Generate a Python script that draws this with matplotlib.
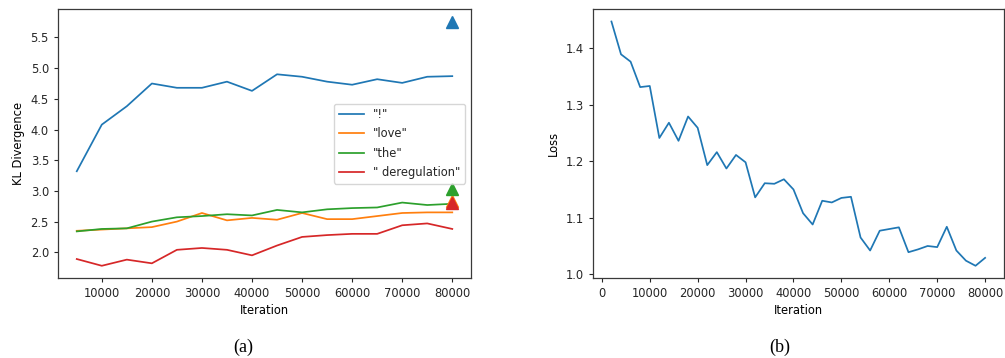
import numpy as np
import matplotlib
matplotlib.use("Agg")
import matplotlib.pyplot as plt

# (a) KL divergence per token
iters_a = [5000, 10000, 15000, 20000, 25000, 30000, 35000, 40000,
           45000, 50000, 55000, 60000, 65000, 70000, 75000, 80000]
kl_excl = [3.32, 4.08, 4.38, 4.75, 4.68, 4.68, 4.78, 4.63,
           4.90, 4.86, 4.78, 4.73, 4.82, 4.76, 4.86, 4.87]
kl_love = [2.35, 2.37, 2.39, 2.41, 2.50, 2.64, 2.52, 2.56,
           2.53, 2.64, 2.54, 2.54, 2.59, 2.64, 2.65, 2.65]
kl_the = [2.34, 2.38, 2.39, 2.50, 2.57, 2.59, 2.62, 2.60,
          2.69, 2.65, 2.70, 2.72, 2.73, 2.81, 2.77, 2.79]
kl_dereg = [1.89, 1.78, 1.88, 1.82, 2.04, 2.07, 2.04, 1.95,
            2.11, 2.25, 2.28, 2.30, 2.30, 2.44, 2.47, 2.38]
labels_a = ['"!"', '"love"', '"the"', '" deregulation"']
# triangle markers at the last iteration
final_iter = 80000
final_kl = [5.76, 2.84, 3.03, 2.80]

# (b) loss curve
iters_b = list(range(2000, 80001, 2000))
loss = [1.447, 1.389, 1.376, 1.331, 1.333, 1.241, 1.268, 1.236, 1.279, 1.259,
        1.193, 1.216, 1.187, 1.211, 1.198, 1.136, 1.161, 1.160, 1.168, 1.150,
        1.108, 1.088, 1.130, 1.127, 1.135, 1.137, 1.065, 1.042, 1.077, 1.080,
        1.083, 1.039, 1.044, 1.050, 1.048, 1.084, 1.042, 1.024, 1.015, 1.029]

colors = ['#1f77b4', '#ff7f0e', '#2ca02c', '#d62728']
FS = 8.3

plt.rcParams['font.family'] = ['DejaVu Sans']
plt.rcParams['font.size'] = FS
plt.rcParams['xtick.major.size'] = 3
plt.rcParams['ytick.major.size'] = 3
plt.rcParams['axes.linewidth'] = 0.9
plt.rcParams['text.color'] = '#262626'
plt.rcParams['xtick.color'] = '#262626'
plt.rcParams['ytick.color'] = '#262626'
plt.rcParams['axes.edgecolor'] = '#3a3a3a'

fig = plt.figure(figsize=(10.05, 3.58), dpi=100)
ax1 = fig.add_axes([0.0577, 0.2235, 0.411, 0.7505])
ax2 = fig.add_axes([0.5898, 0.2235, 0.409, 0.7505])

series = [kl_excl, kl_love, kl_the, kl_dereg]
for vals, lab, c in zip(series, labels_a, colors):
    ax1.plot(iters_a, vals, color=c, lw=1.25, label=lab)
for v, c in zip(final_kl, colors):
    ax1.plot([final_iter], [v], marker='^', ms=8.5, color=c, ls='none')
ax1.set_xticks(range(10000, 80001, 10000))
ax1.set_yticks([2.0, 2.5, 3.0, 3.5, 4.0, 4.5, 5.0, 5.5])
ax1.set_xlabel('Iteration', fontsize=FS, labelpad=3)
ax1.set_ylabel('KL Divergence', fontsize=FS, labelpad=4)
ax1.legend(loc='center right', fontsize=FS, handlelength=2.2, labelspacing=0.55)

ax2.plot(iters_b, loss, color=colors[0], lw=1.25)
ax2.set_xticks(range(0, 80001, 10000))
ax2.set_yticks([1.0, 1.1, 1.2, 1.3, 1.4])
ax2.set_xlabel('Iteration', fontsize=FS, labelpad=3)
ax2.set_ylabel('Loss', fontsize=FS, labelpad=4)

fig.text(243 / 1005, 1 - 347 / 358, '(a)', family='Liberation Serif', fontsize=13,
         color='black', ha='center', va='center')
fig.text(780 / 1005, 1 - 347 / 358, '(b)', family='Liberation Serif', fontsize=13,
         color='black', ha='center', va='center')

fig.savefig('out.png', dpi=100)
